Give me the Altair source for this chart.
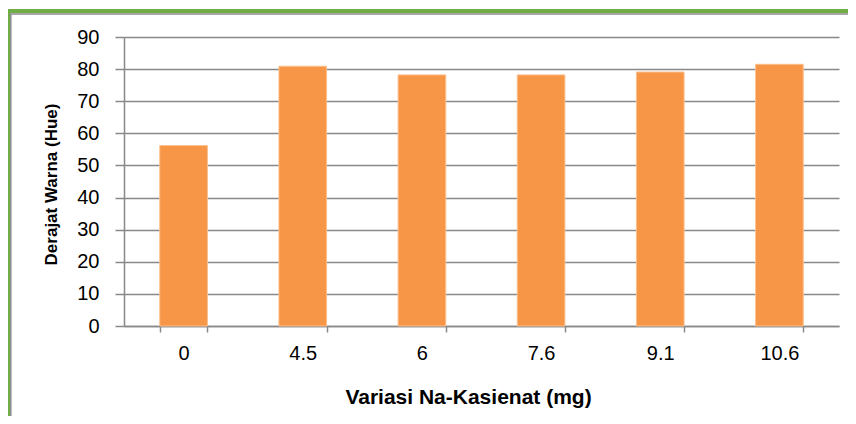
import altair as alt
import pandas as pd

categories = ["0", "4.5", "6", "7.6", "9.1", "10.6"]
hue_values = [56.2, 80.9, 78.2, 78.2, 79.1, 81.5]
y_ticks = [0, 10, 20, 30, 40, 50, 60, 70, 80, 90]

W, H = 715, 289

df = pd.DataFrame({"cat": categories, "hue": hue_values})

GRAY = "#898989"
FONT = "Liberation Sans"

bars = alt.Chart(df).mark_bar(
    color="#F79646", stroke="#FBC08F", strokeWidth=1
).encode(
    x=alt.X("cat:N", sort=categories,
            scale=alt.Scale(paddingInner=0.6, paddingOuter=0.3),
            axis=alt.Axis(
                labelAngle=0, labelFontSize=20, labelColor="#000000",
                labelFont=FONT, labelPadding=21, labelBaseline="middle",
                tickBand="extent",
                tickSize=6, tickColor=GRAY, tickWidth=1.5,
                domainColor=GRAY, domainWidth=1.5, grid=False,
                title="Variasi Na-Kasienat (mg)", titleFont=FONT,
                titleFontSize=21, titleFontWeight="bold", titleColor="#000000",
                titleX=344, titleY=71, titleBaseline="middle", titleAlign="center",
            )),
    y=alt.Y("hue:Q",
            scale=alt.Scale(domain=[0, 90], nice=False),
            axis=alt.Axis(
                values=y_ticks, labelFontSize=20, labelColor="#000000",
                labelFont=FONT, labelPadding=16,
                tickSize=9, tickColor=GRAY, tickWidth=1.5,
                domainColor=GRAY, domainWidth=1.5,
                grid=True, gridColor=GRAY, gridWidth=1.5,
                title="Derajat Warna (Hue)", titleFont=FONT,
                titleFontSize=17, titleFontWeight="bold", titleColor="#000000",
                titleX=-73, titleY=147, titleAngle=-90,
                titleBaseline="middle", titleAlign="center",
            )),
)

one = pd.DataFrame({"a": [0]})
frame = [
    alt.Chart(one).mark_rule(color="#70AD47", strokeWidth=4).encode(
        x=alt.value(-116), x2=alt.value(730), y=alt.value(-26)),
    alt.Chart(one).mark_rule(color=GRAY, strokeWidth=1.5).encode(
        x=alt.value(-114), x2=alt.value(730), y=alt.value(-23)),
    alt.Chart(one).mark_rule(color="#70AD47", strokeWidth=2.5).encode(
        x=alt.value(-115), y=alt.value(-28), y2=alt.value(400)),
    alt.Chart(one).mark_rule(color=GRAY, strokeWidth=1.5).encode(
        x=alt.value(-113.2), y=alt.value(-23), y2=alt.value(400)),
]

chart = alt.layer(bars, *frame).properties(
    width=W, height=H,
    autosize=alt.AutoSizeParams(type="none"),
    padding={"left": 116, "top": 29, "right": 9, "bottom": 90},
    background="#ffffff",
).configure_view(stroke=None)

chart.save("out.html", embed_options={"renderer": "svg", "actions": False})
